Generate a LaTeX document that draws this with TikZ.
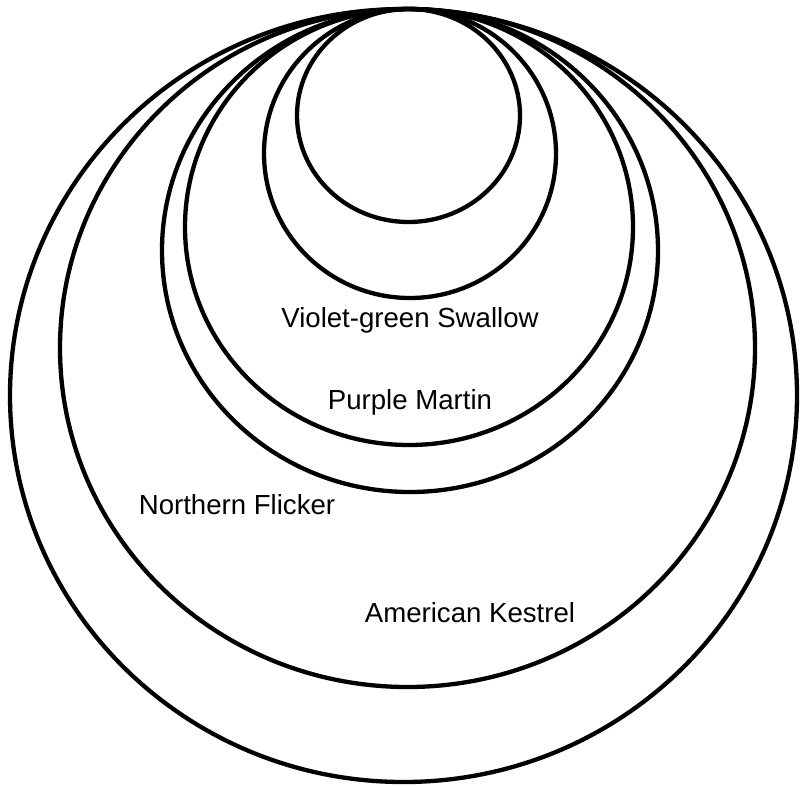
\documentclass[tikz,border=0pt]{standalone}
\usepackage{fontspec}
\setmainfont{Liberation Sans}
\begin{document}
\begin{tikzpicture}[x=1pt,y=-1pt,
  ring/.style={draw=black,line width=4.3pt},
  birdlabel/.style={font=\fontsize{27.6}{32}\selectfont,inner sep=0pt,anchor=center}]
\useasboundingbox (0,0) rectangle (801,785);
% nested ellipses, all touching at the top
\draw[ring] (408.5,115.5) ellipse [x radius=111.5, y radius=106.5];
\draw[ring] (410,153.5) ellipse [x radius=146, y radius=144.5];
\draw[ring] (409,227) ellipse [x radius=224, y radius=218];
\draw[ring] (410,250.5) ellipse [x radius=248, y radius=241.5];
\draw[ring] (407.5,348) ellipse [x radius=347.5, y radius=339];
\draw[ring] (403.5,395.5) ellipse [x radius=393.5, y radius=386.5];
% labels
\node[birdlabel] (vgs) at (410,320) {Violet-green Swallow};
\node[birdlabel] (pm) at (410,402) {Purple Martin};
\node[birdlabel] (nf) at (237,505) {Northern Flicker};
\node[birdlabel] (ak) at (470,613) {American Kestrel};
\end{tikzpicture}
\end{document}
